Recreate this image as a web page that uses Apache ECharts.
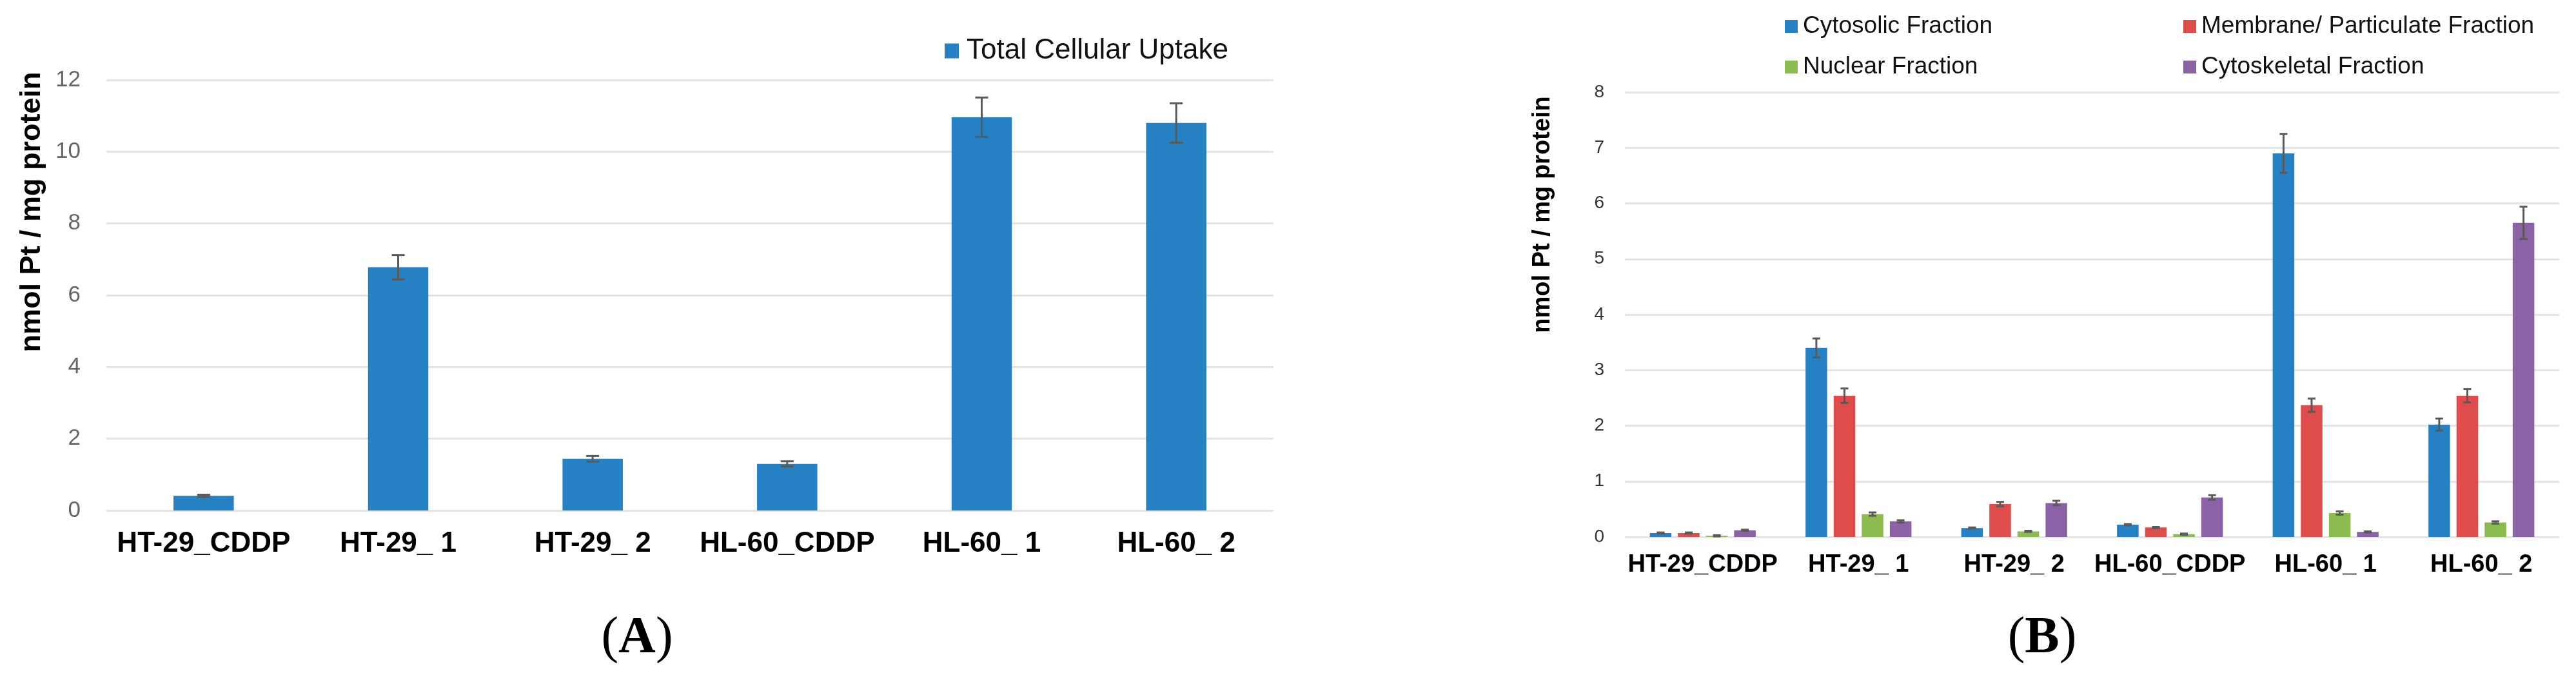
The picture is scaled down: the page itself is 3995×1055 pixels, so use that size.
<!DOCTYPE html>
<html>
<head>
<meta charset="utf-8">
<script src="https://cdn.jsdelivr.net/npm/echarts@6/dist/echarts.min.js"></script>
<style>
  html, body { margin: 0; padding: 0; background: #ffffff; }
  #chart { width: 3995px; height: 1055px; }
</style>
</head>
<body>
<div id="chart"></div>
<script>
// ---------- data ----------
const categories = ['HT-29_CDDP', 'HT-29_ 1', 'HT-29_ 2', 'HL-60_CDDP', 'HL-60_ 1', 'HL-60_ 2'];

const totalUptake    = [0.41, 6.78, 1.44, 1.30, 10.96, 10.80];
const totalUptakeErr = [0.03, 0.34, 0.08, 0.07, 0.55, 0.55];

const cytosolic       = [0.07, 3.40, 0.16, 0.22, 6.90, 2.02];
const cytosolicErr    = [0.01, 0.17, 0.01, 0.01, 0.35, 0.11];
const membrane        = [0.07, 2.54, 0.59, 0.17, 2.37, 2.54];
const membraneErr     = [0.01, 0.13, 0.04, 0.01, 0.12, 0.12];
const nuclear         = [0.02, 0.41, 0.10, 0.05, 0.43, 0.26];
const nuclearErr      = [0.01, 0.03, 0.01, 0.01, 0.03, 0.02];
const cytoskeletal    = [0.12, 0.28, 0.61, 0.71, 0.09, 5.65];
const cytoskeletalErr = [0.01, 0.02, 0.04, 0.04, 0.01, 0.29];

const yTicksA = { min: 0, max: 12, interval: 2 };
const yTicksB = { min: 0, max: 8, interval: 1 };

const seriesNamesB = ['Cytosolic Fraction', 'Membrane/ Particulate Fraction', 'Nuclear Fraction', 'Cytoskeletal Fraction'];
const valuesB = [cytosolic, membrane, nuclear, cytoskeletal];
const errorsB = [cytosolicErr, membraneErr, nuclearErr, cytoskeletalErr];

// ---------- styles ----------
const colorA = '#2581C3';
const colorsB = ['#2581C3', '#DE4C4B', '#8CBB4F', '#8A62A5'];
const gridColor = '#E4E4E4';
const errColor = '#5A5A5A';

const catGapA = 0.69;
const catGapB = 0.32, barGapB = 0.30;

function errRenderer(count, idx, catGap, barGap, capW) {
  return function (params, api) {
    const c = api.value(0), v = api.value(1), e = api.value(2);
    const band = api.size([1, 0])[0];
    const remained = band * (1 - catGap);
    const w = remained / (count + (count - 1) * barGap);
    const total = count * w + (count - 1) * w * barGap;
    const off = -total / 2 + idx * w * (1 + barGap) + w / 2;
    const top = api.coord([c, v + e]);
    const bot = api.coord([c, Math.max(v - e, 0)]);
    const x = top[0] + off;
    const st = { stroke: errColor, lineWidth: 3, fill: null };
    return {
      type: 'group',
      children: [
        { type: 'line', shape: { x1: x, y1: top[1], x2: x, y2: bot[1] }, style: st },
        { type: 'line', shape: { x1: x - capW / 2, y1: top[1], x2: x + capW / 2, y2: top[1] }, style: st },
        { type: 'line', shape: { x1: x - capW / 2, y1: bot[1], x2: x + capW / 2, y2: bot[1] }, style: st }
      ]
    };
  };
}

const series = [];
series.push({
  name: 'Total Cellular Uptake', type: 'bar', xAxisIndex: 0, yAxisIndex: 0,
  data: totalUptake, barCategoryGap: (catGapA * 100) + '%',
  itemStyle: { color: colorA }
});
series.push({
  type: 'custom', xAxisIndex: 0, yAxisIndex: 0, z: 5,
  renderItem: errRenderer(1, 0, catGapA, 0, 20),
  data: totalUptake.map((v, i) => [i, v, totalUptakeErr[i]])
});
valuesB.forEach((vals, k) => {
  series.push({
    name: seriesNamesB[k], type: 'bar', xAxisIndex: 1, yAxisIndex: 1,
    data: vals, barGap: (barGapB * 100) + '%', barCategoryGap: (catGapB * 100) + '%',
    itemStyle: { color: colorsB[k] }
  });
});
valuesB.forEach((vals, k) => {
  series.push({
    type: 'custom', xAxisIndex: 1, yAxisIndex: 1, z: 5,
    renderItem: errRenderer(4, k, catGapB, barGapB, 12),
    data: vals.map((v, i) => [i, v, errorsB[k][i]])
  });
});

const W = 3995, H = 1055;
const option = {
  animation: false,
  backgroundColor: '#ffffff',
  textStyle: { fontFamily: 'Liberation Sans, Arial, sans-serif' },
  grid: [
    { left: 165, right: W - 1975, top: 124, bottom: H - 792 },
    { left: 2520, right: W - 3969, top: 143, bottom: H - 833 }
  ],
  legend: [
    {
      data: ['Total Cellular Uptake'], left: 1465, top: 56, padding: 0,
      icon: 'rect', itemWidth: 22, itemHeight: 23,
      textStyle: { fontSize: 44, color: '#111', lineHeight: 46, padding: [0, 0, 0, 7] }
    },
    {
      data: ['Cytosolic Fraction', 'Nuclear Fraction'], orient: 'vertical', left: 2768, top: 22, padding: 0,
      icon: 'rect', itemWidth: 20, itemHeight: 20, itemGap: 25,
      textStyle: { fontSize: 37, color: '#111', lineHeight: 38, padding: [0, 0, 0, 3] }
    },
    {
      data: ['Membrane/ Particulate Fraction', 'Cytoskeletal Fraction'], orient: 'vertical', left: 3386, top: 22, padding: 0,
      icon: 'rect', itemWidth: 20, itemHeight: 20, itemGap: 25,
      textStyle: { fontSize: 37, color: '#111', lineHeight: 38, padding: [0, 0, 0, 3] }
    }
  ],
  xAxis: [
    {
      type: 'category', gridIndex: 0, data: categories,
      axisLine: { show: false }, axisTick: { show: false },
      axisLabel: { fontSize: 44, fontWeight: 'bold', color: '#000', margin: 30, interval: 0 }
    },
    {
      type: 'category', gridIndex: 1, data: categories,
      axisLine: { show: false }, axisTick: { show: false },
      axisLabel: { fontSize: 38, fontWeight: 'bold', color: '#000', margin: 25, interval: 0 }
    }
  ],
  yAxis: [
    {
      type: 'value', gridIndex: 0, min: yTicksA.min, max: yTicksA.max, interval: yTicksA.interval,
      axisLine: { show: false }, axisTick: { show: false },
      splitLine: { lineStyle: { color: gridColor, width: 3 } },
      axisLabel: { fontSize: 35, color: '#666666', margin: 40 }
    },
    {
      type: 'value', gridIndex: 1, min: yTicksB.min, max: yTicksB.max, interval: yTicksB.interval,
      axisLine: { show: false }, axisTick: { show: false },
      splitLine: { lineStyle: { color: gridColor, width: 3 } },
      axisLabel: { fontSize: 28, color: '#333333', margin: 32 }
    }
  ],
  graphic: [
    {
      type: 'text', x: 50, y: 329, rotation: Math.PI / 2,
      style: { text: 'nmol Pt / mg protein', font: 'bold 45px "Liberation Sans", Arial, sans-serif',
               fill: '#000', align: 'center', verticalAlign: 'middle' }
    },
    {
      type: 'text', x: 2393, y: 333, rotation: Math.PI / 2,
      style: { text: 'nmol Pt / mg protein', font: 'bold 38px "Liberation Sans", Arial, sans-serif',
               fill: '#000', align: 'center', verticalAlign: 'middle' }
    },
    {
      type: 'text', x: 988, y: 991,
      style: {
        text: '{p|(}{b|A}{p|)}', align: 'center', verticalAlign: 'middle',
        rich: {
          p: { font: '80px "Liberation Serif", "Times New Roman", serif', fill: '#000' },
          b: { font: 'bold 80px "Liberation Serif", "Times New Roman", serif', fill: '#000' }
        }
      }
    },
    {
      type: 'text', x: 3167, y: 991,
      style: {
        text: '{p|(}{b|B}{p|)}', align: 'center', verticalAlign: 'middle',
        rich: {
          p: { font: '80px "Liberation Serif", "Times New Roman", serif', fill: '#000' },
          b: { font: 'bold 80px "Liberation Serif", "Times New Roman", serif', fill: '#000' }
        }
      }
    }
  ],
  series: series
};

const chart = echarts.init(document.getElementById('chart'), null, { renderer: 'canvas', width: W, height: H });
chart.setOption(option);
</script>
</body>
</html>
